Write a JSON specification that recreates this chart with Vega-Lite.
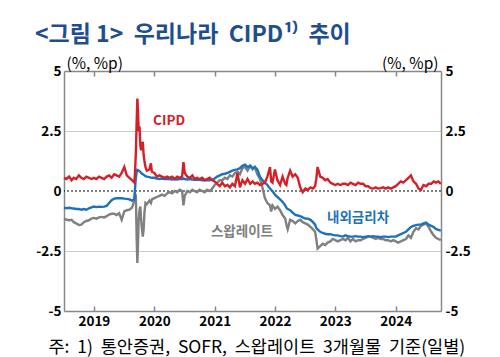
{
"$schema":"https://vega.github.io/schema/vega-lite/v6.json",
"width":377,"height":240,"autosize":"none",
"padding":{"left":64,"top":71,"right":59,"bottom":46},
"title":{"text":"<그림 1>\u00a0 우리나라\u00a0 CIPD¹⁾\u00a0 추이","anchor":"start","frame":"group","dx":-29,"dy":-5,"fontSize":23,"fontWeight":"bold","color":"#1f4e8f","font":"Noto Sans CJK KR"},
"config":{"view":{"stroke":null},"font":"Noto Sans CJK KR"},
"datasets":{
"series":[
{"d":"2019-01-01","CIPD":0.55,"내외금리차":-0.7,"스왑레이트":-1.15},
{"d":"2019-01-16","CIPD":0.5,"내외금리차":-0.72,"스왑레이트":-1.2},
{"d":"2019-02-01","CIPD":0.6,"내외금리차":-0.7,"스왑레이트":-1.22},
{"d":"2019-02-16","CIPD":0.45,"내외금리차":-0.72,"스왑레이트":-1.2},
{"d":"2019-03-01","CIPD":0.55,"내외금리차":-0.73,"스왑레이트":-1.3},
{"d":"2019-03-16","CIPD":0.5,"내외금리차":-0.75,"스왑레이트":-1.35},
{"d":"2019-04-01","CIPD":0.65,"내외금리차":-0.75,"스왑레이트":-1.42},
{"d":"2019-04-16","CIPD":0.55,"내외금리차":-0.78,"스왑레이트":-1.4},
{"d":"2019-05-01","CIPD":0.5,"내외금리차":-0.75,"스왑레이트":-1.3},
{"d":"2019-05-16","CIPD":0.6,"내외금리차":-0.78,"스왑레이트":-1.25},
{"d":"2019-06-01","CIPD":0.55,"내외금리차":-0.72,"스왑레이트":-1.22},
{"d":"2019-06-16","CIPD":0.5,"내외금리차":-0.68,"스왑레이트":-1.15},
{"d":"2019-07-01","CIPD":0.55,"내외금리차":-0.65,"스왑레이트":-1.12},
{"d":"2019-07-16","CIPD":0.5,"내외금리차":-0.67,"스왑레이트":-1.15},
{"d":"2019-08-01","CIPD":0.6,"내외금리차":-0.65,"스왑레이트":-1.1},
{"d":"2019-08-16","CIPD":0.55,"내외금리차":-0.66,"스왑레이트":-1.08},
{"d":"2019-09-01","CIPD":0.5,"내외금리차":-0.65,"스왑레이트":-1.1},
{"d":"2019-09-16","CIPD":0.6,"내외금리차":-0.62,"스왑레이트":-1.05},
{"d":"2019-10-01","CIPD":0.65,"내외금리차":-0.5,"스왑레이트":-0.98},
{"d":"2019-10-16","CIPD":0.55,"내외금리차":-0.38,"스왑레이트":-0.95},
{"d":"2019-11-01","CIPD":0.7,"내외금리차":-0.32,"스왑레이트":-0.95},
{"d":"2019-11-16","CIPD":0.65,"내외금리차":-0.3,"스왑레이트":-1.0},
{"d":"2019-12-01","CIPD":0.6,"내외금리차":-0.3,"스왑레이트":-0.92},
{"d":"2019-12-16","CIPD":0.75,"내외금리차":-0.3,"스왑레이트":-1.2},
{"d":"2020-01-01","CIPD":1.0,"내외금리차":-0.32,"스왑레이트":-0.85},
{"d":"2020-01-16","CIPD":0.65,"내외금리차":-0.33,"스왑레이트":-0.8},
{"d":"2020-02-01","CIPD":0.55,"내외금리차":-0.35,"스왑레이트":-0.78},
{"d":"2020-02-16","CIPD":0.45,"내외금리차":-0.4,"스왑레이트":-0.7},
{"d":"2020-03-02","CIPD":0.35,"내외금리차":-0.35,"스왑레이트":-0.4},
{"d":"2020-03-06","CIPD":0.8,"내외금리차":0.1,"스왑레이트":-0.1},
{"d":"2020-03-11","CIPD":1.6,"내외금리차":0.55,"스왑레이트":-0.2},
{"d":"2020-03-16","CIPD":2.9,"내외금리차":0.8,"스왑레이트":-2.0},
{"d":"2020-03-20","CIPD":3.85,"내외금리차":0.88,"스왑레이트":-3.0},
{"d":"2020-03-24","CIPD":3.3,"내외금리차":0.87,"스왑레이트":-2.2},
{"d":"2020-03-28","CIPD":2.5,"내외금리차":0.85,"스왑레이트":-1.2},
{"d":"2020-04-02","CIPD":2.7,"내외금리차":0.82,"스왑레이트":-0.8},
{"d":"2020-04-07","CIPD":1.9,"내외금리차":0.8,"스왑레이트":-0.65},
{"d":"2020-04-12","CIPD":1.7,"내외금리차":0.75,"스왑레이트":-1.2},
{"d":"2020-04-17","CIPD":1.9,"내외금리차":0.72,"스왑레이트":-1.6},
{"d":"2020-04-22","CIPD":2.05,"내외금리차":0.7,"스왑레이트":-1.9},
{"d":"2020-04-27","CIPD":1.5,"내외금리차":0.68,"스왑레이트":-1.6},
{"d":"2020-05-02","CIPD":1.25,"내외금리차":0.65,"스왑레이트":-0.9},
{"d":"2020-05-08","CIPD":1.0,"내외금리차":0.62,"스왑레이트":-0.5},
{"d":"2020-05-16","CIPD":0.85,"내외금리차":0.6,"스왑레이트":-0.55},
{"d":"2020-06-01","CIPD":0.9,"내외금리차":0.58,"스왑레이트":-0.4},
{"d":"2020-06-10","CIPD":1.15,"내외금리차":0.56,"스왑레이트":-0.5},
{"d":"2020-06-16","CIPD":0.8,"내외금리차":0.55,"스왑레이트":-0.35},
{"d":"2020-07-01","CIPD":0.75,"내외금리차":0.55,"스왑레이트":-0.3},
{"d":"2020-07-16","CIPD":0.6,"내외금리차":0.52,"스왑레이트":-0.25},
{"d":"2020-08-01","CIPD":0.65,"내외금리차":0.5,"스왑레이트":-0.2},
{"d":"2020-08-16","CIPD":0.6,"내외금리차":0.52,"스왑레이트":-0.15},
{"d":"2020-09-01","CIPD":0.55,"내외금리차":0.5,"스왑레이트":-0.2},
{"d":"2020-09-16","CIPD":0.6,"내외금리차":0.5,"스왑레이트":-0.1},
{"d":"2020-10-01","CIPD":0.55,"내외금리차":0.5,"스왑레이트":-0.05},
{"d":"2020-10-16","CIPD":0.6,"내외금리차":0.48,"스왑레이트":-0.1},
{"d":"2020-11-01","CIPD":0.5,"내외금리차":0.5,"스왑레이트":0.0},
{"d":"2020-11-16","CIPD":0.6,"내외금리차":0.48,"스왑레이트":-0.05},
{"d":"2020-12-01","CIPD":0.55,"내외금리차":0.5,"스왑레이트":0.05},
{"d":"2020-12-16","CIPD":0.6,"내외금리차":0.5,"스왑레이트":0.0},
{"d":"2020-12-24","CIPD":1.2,"내외금리차":0.52,"스왑레이트":-0.6},
{"d":"2021-01-01","CIPD":0.75,"내외금리차":0.5,"스왑레이트":-0.2},
{"d":"2021-01-16","CIPD":0.6,"내외금리차":0.48,"스왑레이트":0.0},
{"d":"2021-02-01","CIPD":0.55,"내외금리차":0.5,"스왑레이트":-0.05},
{"d":"2021-02-16","CIPD":0.65,"내외금리차":0.48,"스왑레이트":0.05},
{"d":"2021-03-01","CIPD":0.5,"내외금리차":0.47,"스왑레이트":0.0},
{"d":"2021-03-16","CIPD":0.55,"내외금리차":0.48,"스왑레이트":-0.05},
{"d":"2021-04-01","CIPD":0.5,"내외금리차":0.47,"스왑레이트":0.05},
{"d":"2021-04-16","CIPD":0.55,"내외금리차":0.45,"스왑레이트":0.0},
{"d":"2021-05-01","CIPD":0.45,"내외금리차":0.46,"스왑레이트":-0.05},
{"d":"2021-05-16","CIPD":0.5,"내외금리차":0.45,"스왑레이트":0.05},
{"d":"2021-06-01","CIPD":0.55,"내외금리차":0.45,"스왑레이트":0.0},
{"d":"2021-06-16","CIPD":0.45,"내외금리차":0.47,"스왑레이트":0.1},
{"d":"2021-07-01","CIPD":0.4,"내외금리차":0.52,"스왑레이트":0.25},
{"d":"2021-07-16","CIPD":0.3,"내외금리차":0.6,"스왑레이트":0.35},
{"d":"2021-08-01","CIPD":0.2,"내외금리차":0.65,"스왑레이트":0.45},
{"d":"2021-08-16","CIPD":0.35,"내외금리차":0.7,"스왑레이트":0.45},
{"d":"2021-09-01","CIPD":0.2,"내외금리차":0.72,"스왑레이트":0.55},
{"d":"2021-09-16","CIPD":0.25,"내외금리차":0.75,"스왑레이트":0.5},
{"d":"2021-10-01","CIPD":0.15,"내외금리차":0.8,"스왑레이트":0.65},
{"d":"2021-10-16","CIPD":0.3,"내외금리차":0.85,"스왑레이트":0.6},
{"d":"2021-11-01","CIPD":0.2,"내외금리차":0.88,"스왑레이트":0.75},
{"d":"2021-11-16","CIPD":0.75,"내외금리차":0.9,"스왑레이트":0.8},
{"d":"2021-12-01","CIPD":0.15,"내외금리차":0.95,"스왑레이트":0.7},
{"d":"2021-12-16","CIPD":0.45,"내외금리차":1.05,"스왑레이트":0.95},
{"d":"2022-01-01","CIPD":0.3,"내외금리차":1.1,"스왑레이트":1.0},
{"d":"2022-01-16","CIPD":0.5,"내외금리차":1.0,"스왑레이트":0.85},
{"d":"2022-02-01","CIPD":0.3,"내외금리차":1.05,"스왑레이트":1.05},
{"d":"2022-02-16","CIPD":0.4,"내외금리차":0.95,"스왑레이트":0.9},
{"d":"2022-03-01","CIPD":0.3,"내외금리차":1.0,"스왑레이트":1.0},
{"d":"2022-03-16","CIPD":0.35,"내외금리차":0.9,"스왑레이트":0.7},
{"d":"2022-04-01","CIPD":0.25,"내외금리차":0.6,"스왑레이트":0.5},
{"d":"2022-04-16","CIPD":0.3,"내외금리차":0.45,"스왑레이트":0.15},
{"d":"2022-05-01","CIPD":0.35,"내외금리차":0.35,"스왑레이트":-0.3},
{"d":"2022-05-16","CIPD":0.6,"내외금리차":0.25,"스왑레이트":-0.5},
{"d":"2022-06-01","CIPD":1.0,"내외금리차":0.1,"스왑레이트":-0.6},
{"d":"2022-06-08","CIPD":0.4,"내외금리차":0.05,"스왑레이트":-0.85},
{"d":"2022-06-16","CIPD":0.35,"내외금리차":0.0,"스왑레이트":-0.6},
{"d":"2022-07-01","CIPD":0.9,"내외금리차":-0.15,"스왑레이트":-0.75},
{"d":"2022-07-16","CIPD":0.45,"내외금리차":-0.25,"스왑레이트":-0.65},
{"d":"2022-08-01","CIPD":0.25,"내외금리차":-0.35,"스왑레이트":-0.8},
{"d":"2022-08-16","CIPD":0.6,"내외금리차":-0.45,"스왑레이트":-1.0},
{"d":"2022-09-01","CIPD":0.3,"내외금리차":-0.6,"스왑레이트":-1.15},
{"d":"2022-09-08","CIPD":0.25,"내외금리차":-0.7,"스왑레이트":-1.4},
{"d":"2022-09-16","CIPD":0.55,"내외금리차":-0.75,"스왑레이트":-1.6},
{"d":"2022-10-01","CIPD":0.85,"내외금리차":-0.8,"스왑레이트":-1.2},
{"d":"2022-10-16","CIPD":0.6,"내외금리차":-0.9,"스왑레이트":-1.25},
{"d":"2022-11-01","CIPD":0.7,"내외금리차":-1.0,"스왑레이트":-1.35},
{"d":"2022-11-16","CIPD":0.55,"내외금리차":-1.02,"스왑레이트":-1.25},
{"d":"2022-12-01","CIPD":0.15,"내외금리차":-1.05,"스왑레이트":-1.2},
{"d":"2022-12-16","CIPD":-0.05,"내외금리차":-1.1,"스왑레이트":-1.3},
{"d":"2023-01-01","CIPD":0.1,"내외금리차":-1.15,"스왑레이트":-1.35},
{"d":"2023-01-16","CIPD":0.05,"내외금리차":-1.15,"스왑레이트":-1.4},
{"d":"2023-02-01","CIPD":0.15,"내외금리차":-1.2,"스왑레이트":-1.5},
{"d":"2023-02-16","CIPD":0.1,"내외금리차":-1.3,"스왑레이트":-1.6},
{"d":"2023-03-01","CIPD":0.2,"내외금리차":-1.4,"스왑레이트":-1.7},
{"d":"2023-03-08","CIPD":0.5,"내외금리차":-1.55,"스왑레이트":-2.0},
{"d":"2023-03-16","CIPD":1.0,"내외금리차":-1.6,"스왑레이트":-2.4},
{"d":"2023-04-01","CIPD":0.6,"내외금리차":-1.7,"스왑레이트":-2.3},
{"d":"2023-04-16","CIPD":0.55,"내외금리차":-1.75,"스왑레이트":-2.2},
{"d":"2023-05-01","CIPD":0.45,"내외금리차":-1.78,"스왑레이트":-2.25},
{"d":"2023-05-16","CIPD":0.5,"내외금리차":-1.8,"스왑레이트":-2.15},
{"d":"2023-06-01","CIPD":0.35,"내외금리차":-1.8,"스왑레이트":-2.1},
{"d":"2023-06-16","CIPD":0.3,"내외금리차":-1.83,"스왑레이트":-2.0},
{"d":"2023-07-01","CIPD":0.25,"내외금리차":-1.85,"스왑레이트":-2.05},
{"d":"2023-07-16","CIPD":0.3,"내외금리차":-1.85,"스왑레이트":-2.1},
{"d":"2023-08-01","CIPD":0.25,"내외금리차":-1.88,"스왑레이트":-2.05},
{"d":"2023-08-16","CIPD":0.3,"내외금리차":-1.9,"스왑레이트":-2.0},
{"d":"2023-09-01","CIPD":0.3,"내외금리차":-1.85,"스왑레이트":-2.05},
{"d":"2023-09-16","CIPD":0.25,"내외금리차":-1.88,"스왑레이트":-1.95},
{"d":"2023-10-01","CIPD":0.35,"내외금리차":-1.9,"스왑레이트":-2.1},
{"d":"2023-10-16","CIPD":0.3,"내외금리차":-1.9,"스왑레이트":-2.0},
{"d":"2023-11-01","CIPD":0.25,"내외금리차":-1.88,"스왑레이트":-2.1},
{"d":"2023-11-16","CIPD":0.35,"내외금리차":-1.9,"스왑레이트":-2.05},
{"d":"2023-12-01","CIPD":0.3,"내외금리차":-1.9,"스왑레이트":-2.05},
{"d":"2023-12-16","CIPD":0.3,"내외금리차":-1.92,"스왑레이트":-2.0},
{"d":"2024-01-01","CIPD":0.2,"내외금리차":-1.9,"스왑레이트":-1.95},
{"d":"2024-01-16","CIPD":0.2,"내외금리차":-1.88,"스왑레이트":-1.9},
{"d":"2024-02-01","CIPD":0.12,"내외금리차":-1.9,"스왑레이트":-1.9},
{"d":"2024-02-16","CIPD":0.1,"내외금리차":-1.88,"스왑레이트":-1.95},
{"d":"2024-03-01","CIPD":0.15,"내외금리차":-1.9,"스왑레이트":-2.0},
{"d":"2024-03-16","CIPD":0.1,"내외금리차":-1.9,"스왑레이트":-1.95},
{"d":"2024-04-01","CIPD":0.12,"내외금리차":-1.92,"스왑레이트":-2.0},
{"d":"2024-04-16","CIPD":0.15,"내외금리차":-1.9,"스왑레이트":-2.0},
{"d":"2024-05-01","CIPD":0.1,"내외금리차":-1.9,"스왑레이트":-2.05},
{"d":"2024-05-16","CIPD":0.15,"내외금리차":-1.92,"스왑레이트":-2.05},
{"d":"2024-06-01","CIPD":0.1,"내외금리차":-1.9,"스왑레이트":-2.1},
{"d":"2024-06-16","CIPD":0.15,"내외금리차":-1.9,"스왑레이트":-2.05},
{"d":"2024-07-01","CIPD":0.2,"내외금리차":-1.9,"스왑레이트":-2.1},
{"d":"2024-07-16","CIPD":0.3,"내외금리차":-1.85,"스왑레이트":-2.15},
{"d":"2024-08-01","CIPD":0.4,"내외금리차":-1.8,"스왑레이트":-2.1},
{"d":"2024-08-16","CIPD":0.35,"내외금리차":-1.75,"스왑레이트":-2.05},
{"d":"2024-09-01","CIPD":0.45,"내외금리차":-1.7,"스왑레이트":-2.0},
{"d":"2024-09-16","CIPD":0.55,"내외금리차":-1.6,"스왑레이트":-1.85},
{"d":"2024-10-01","CIPD":0.65,"내외금리차":-1.5,"스왑레이트":-1.95},
{"d":"2024-10-16","CIPD":0.4,"내외금리차":-1.45,"스왑레이트":-1.7},
{"d":"2024-11-01","CIPD":0.3,"내외금리차":-1.42,"스왑레이트":-1.55},
{"d":"2024-11-16","CIPD":0.1,"내외금리차":-1.4,"스왑레이트":-1.6},
{"d":"2024-12-01","CIPD":0.05,"내외금리차":-1.4,"스왑레이트":-1.45},
{"d":"2024-12-16","CIPD":0.25,"내외금리차":-1.35,"스왑레이트":-1.4},
{"d":"2025-01-01","CIPD":0.2,"내외금리차":-1.32,"스왑레이트":-1.35},
{"d":"2025-01-16","CIPD":0.3,"내외금리차":-1.4,"스왑레이트":-1.5},
{"d":"2025-02-01","CIPD":0.3,"내외금리차":-1.45,"스왑레이트":-1.7},
{"d":"2025-02-16","CIPD":0.4,"내외금리차":-1.5,"스왑레이트":-1.85},
{"d":"2025-03-01","CIPD":0.35,"내외금리차":-1.58,"스왑레이트":-1.95},
{"d":"2025-03-16","CIPD":0.4,"내외금리차":-1.62,"스왑레이트":-2.0},
{"d":"2025-03-31","CIPD":0.3,"내외금리차":-1.65,"스왑레이트":-2.05}
],
"labels":[
{"d":"2020-09-28","v":2.92,"label":"CIPD","series":"CIPD"},
{"d":"2023-11-16","v":-1.11,"label":"내외금리차","series":"내외금리차"},
{"d":"2021-12-13","v":-1.7,"label":"스왑레이트","series":"스왑레이트"}
]
},
"layer":[
{
"data":{"values":[{"z":0}]},
"mark":{"type":"rule","strokeDash":[2,2],"color":"#000000","strokeWidth":1.2},
"encoding":{"y":{"field":"z","type":"quantitative","scale":{"domain":[-5,5],"nice":false},"axis":null}}
},
{
"data":{"name":"series"},
"transform":[{"fold":["스왑레이트","내외금리차","CIPD"],"as":["series","value"]}],
"mark":{"type":"line","strokeWidth":2.4},
"encoding":{
"x":{"field":"d","type":"temporal","scale":{"domain":[{"year":2019,"month":1,"date":1},{"year":2025,"month":4,"date":1}]},
"axis":{"orient":"bottom","values":[{"year":2019,"month":7,"date":1},{"year":2020,"month":7,"date":1},{"year":2021,"month":7,"date":1},{"year":2022,"month":7,"date":1},{"year":2023,"month":7,"date":1},{"year":2024,"month":7,"date":1}],"format":"%Y","labelFlush":false,"labelOverlap":false,"labelFontSize":13.5,"labelFontWeight":"bold","labelColor":"#000000","labelPadding":8,"tickSize":-5,"tickColor":"#888888","tickWidth":1.5,"domainColor":"#888888","domainWidth":1.5,"grid":false,
"title":"주:\u00a0 1)\u00a0 통안증권,\u00a0 SOFR,\u00a0 스왑레이트\u00a0 3개월물\u00a0 기준(일별)","titleX":-16,"titleY":41,"titleAlign":"left","titleBaseline":"alphabetic","titleFontSize":17.5,"titleFontWeight":"normal","titleColor":"#000000"}},
"y":{"field":"value","type":"quantitative","scale":{"domain":[-5,5],"nice":false,"zero":false},
"axis":{"orient":"left","values":[-5,-2.5,0,2.5,5],"labelExpr":"''+datum.value","labelFontSize":13.5,"labelFontWeight":"bold","labelColor":"#000000","labelPadding":3,"ticks":false,"domainColor":"#888888","domainWidth":1.5,"grid":true,"gridColor":{"condition":{"test":"datum.value===0","value":"transparent"},"value":"#cccccc"},"gridWidth":1,
"title":"(%, %p)","titleAngle":0,"titleX":2,"titleY":-3,"titleAlign":"left","titleBaseline":"alphabetic","titleFontSize":15.5,"titleFontWeight":"normal","titleColor":"#000000"}},
"color":{"field":"series","type":"nominal","scale":{"domain":["CIPD","내외금리차","스왑레이트"],"range":["#d42027","#1b72bd","#808080"]},"legend":null}
}
},
{
"data":{"name":"labels"},
"mark":{"type":"text","fontWeight":"bold","fontSize":13.5},
"encoding":{
"x":{"field":"d","type":"temporal","axis":{"orient":"top","values":[{"year":2019,"month":7,"date":1},{"year":2020,"month":7,"date":1},{"year":2021,"month":7,"date":1},{"year":2022,"month":7,"date":1},{"year":2023,"month":7,"date":1},{"year":2024,"month":7,"date":1}],"labels":false,"tickSize":-5,"tickColor":"#888888","tickWidth":1.5,"domainColor":"#888888","domainWidth":1.5,"grid":false,"title":null}},
"y":{"field":"v","type":"quantitative","axis":{"orient":"right","values":[-5,-2.5,0,2.5,5],"labelExpr":"''+datum.value","labelFontSize":13.5,"labelFontWeight":"bold","labelColor":"#000000","labelPadding":4,"ticks":false,"domainColor":"#888888","domainWidth":1.5,"grid":false,
"title":"(%, %p)","titleAngle":0,"titleX":-3,"titleY":-3,"titleAlign":"right","titleBaseline":"alphabetic","titleFontSize":15.5,"titleFontWeight":"normal","titleColor":"#000000"}},
"text":{"field":"label"},
"color":{"field":"series","type":"nominal","legend":null}
}
}
],
"resolve":{"scale":{"x":"shared","y":"shared","color":"shared"},"axis":{"x":"independent","y":"independent"}}
}
